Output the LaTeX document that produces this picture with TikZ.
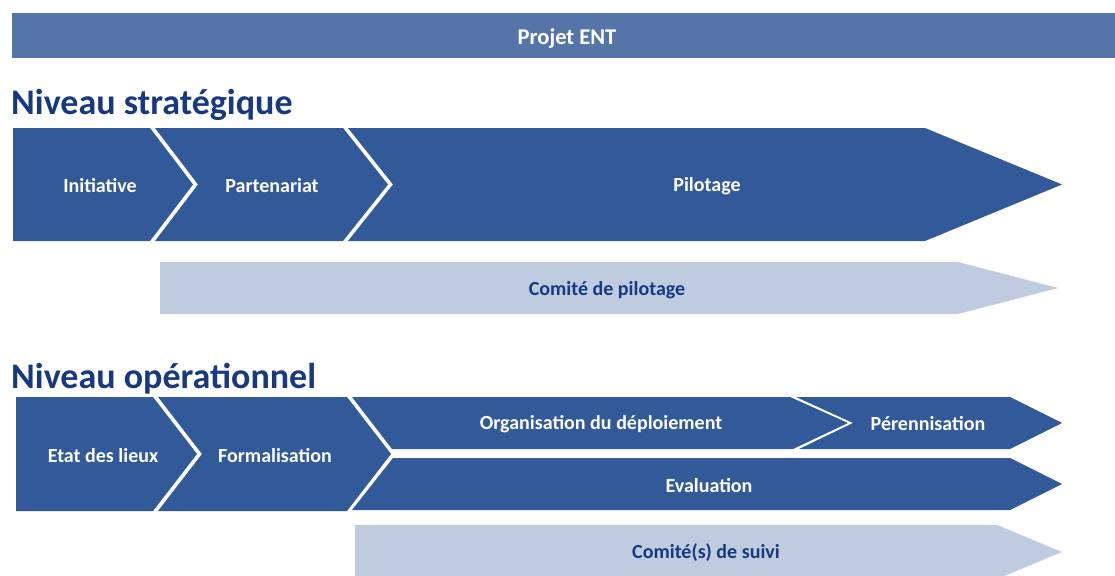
\documentclass[tikz,border=0pt]{standalone}
\usepackage{fontspec}
\setmainfont{Carlito}
\definecolor{barblue}{HTML}{5575A9}
\definecolor{shapeblue}{HTML}{325A99}
\definecolor{lightblue}{HTML}{BFCCE0}
\definecolor{headblue}{HTML}{17397F}
\tikzset{
  dark/.style={fill=shapeblue},
  light/.style={fill=lightblue},
  lbl/.style={text=white,font=\bfseries\fontsize{20}{22}\selectfont,inner sep=0pt},
  lbldark/.style={text=headblue,font=\bfseries\fontsize{20}{22}\selectfont,inner sep=0pt},
  heading/.style={text=headblue,font=\bfseries\fontsize{36}{40}\selectfont,inner sep=0pt,anchor=base west}
}
\begin{document}
\begin{tikzpicture}[x=1pt,y=-1pt]
\useasboundingbox (0,0) rectangle (1115,575);
\clip (0,0) rectangle (1115,575);
% top bar
\fill[barblue] (12,13) rectangle (1116,58);
\node[lbl,font=\bfseries\fontsize{22.5}{24}\selectfont] (projet) at (567,39) {Projet ENT};
% strategic
\node[heading] (strat) at (11,114) {Niveau stratégique};
\fill[dark] (13,128) -- (150,128) -- (193,184.5) -- (150,241) -- (13,241) -- cycle;
\fill[dark] (155,128) -- (343,128) -- (388,184.5) -- (343,241) -- (155,241) -- (198,184.5) -- cycle;
\fill[dark] (348,128) -- (925,128) -- (1062,184.5) -- (925,241) -- (348,241) -- (393,184.5) -- cycle;
\node[lbl] (init) at (100,186) {Initiative};
\node[lbl] (part) at (272,186) {Partenariat};
\node[lbl] (pil) at (707,186) {Pilotage};
\fill[light] (160,262) -- (958,262) -- (1058,288) -- (958,314) -- (160,314) -- cycle;
\node[lbldark] (copil) at (607,290) {Comité de pilotage};
% operational
\node[heading] (oper) at (11,388) {Niveau opérationnel};
\fill[dark] (16,397) -- (153,397) -- (197,454) -- (153,511) -- (16,511) -- cycle;
\fill[dark] (158,397) -- (347,397) -- (391,454) -- (347,511) -- (158,511) -- (202,454) -- cycle;
\fill[dark] (352,397) -- (790,397) -- (848,423) -- (793,449) -- (392,449) -- cycle;
\fill[dark] (796,397) -- (1010,397) -- (1062,423) -- (1010,449) -- (799,449) -- (853,423) -- cycle;
\fill[dark] (393,458) -- (1010,458) -- (1062,484) -- (1010,510) -- (352,510) -- cycle;
\fill[light] (355,525) -- (997,525) -- (1062,552) -- (997,579) -- (355,579) -- cycle;
\node[lbl] (etat) at (103,456) {Etat des lieux};
\node[lbl] (form) at (275,456) {Formalisation};
\node[lbl] (orga) at (601,424) {Organisation du déploiement};
\node[lbl] (peren) at (928,424) {Pérennisation};
\node[lbl] (eval) at (709,486) {Evaluation};
\node[lbldark] (suivi) at (706,553) {Comité(s) de suivi};
\end{tikzpicture}
\end{document}
